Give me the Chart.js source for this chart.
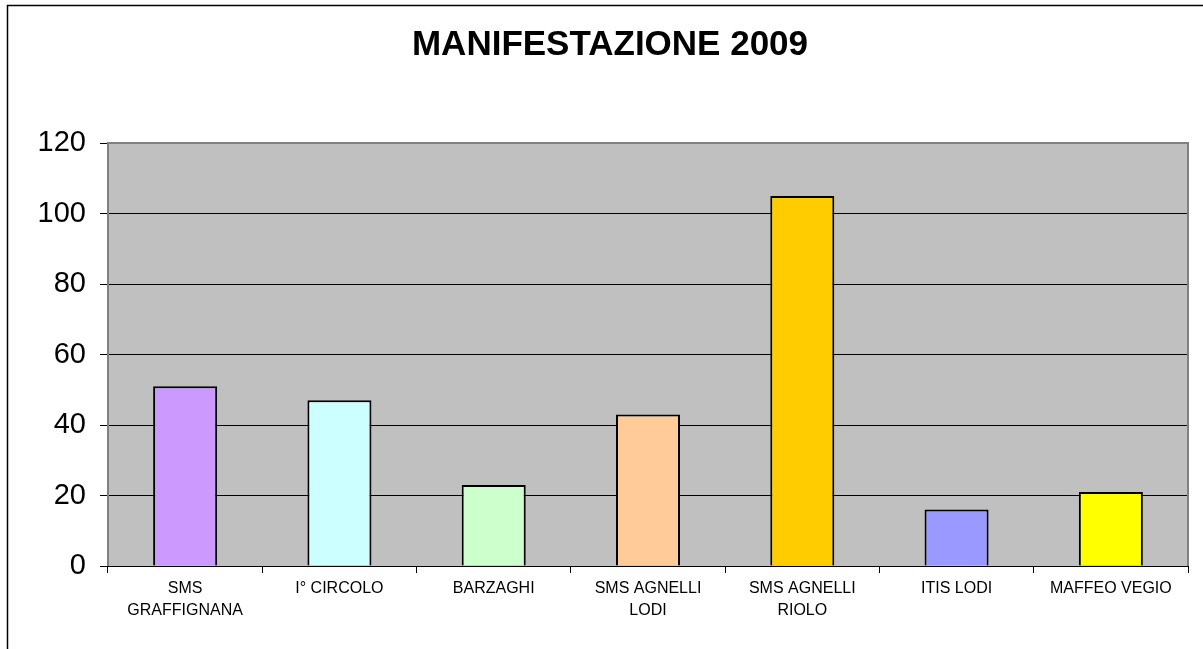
<!DOCTYPE html>
<html>
<head>
<meta charset="utf-8">
<script src="https://cdn.jsdelivr.net/npm/chart.js@4"></script>
<style>
  html, body { margin: 0; padding: 0; background: #fff; }
  #wrap { width: 1203px; height: 649px; }
</style>
</head>
<body>
<div id="wrap"><canvas id="chart"></canvas></div>
<script>
"use strict"

const categories = [["SMS", "GRAFFIGNANA"], "I° CIRCOLO", "BARZAGHI", ["SMS AGNELLI", "LODI"], ["SMS AGNELLI", "RIOLO"], "ITIS LODI", "MAFFEO VEGIO"];
const values = [51, 47, 23, 43, 105, 16, 21];
const barColors = ['#CC99FF', '#CCFFFF', '#CCFFCC', '#FFCC99', '#FFCC00', '#9999FF', '#FFFF00'];
const yTicks = [0, 20, 40, 60, 80, 100, 120];

// grey plot area + outer frame
const backdrop = {
    id: 'backdrop',
    beforeDraw(chart) {
        const ctx = chart.ctx;
        const a = chart.chartArea;
        ctx.save();
        ctx.fillStyle = '#C0C0C0';
        ctx.fillRect(a.left, a.top, a.right - a.left, a.bottom - a.top);
        ctx.strokeStyle = '#000';
        ctx.lineWidth = 1.5;
        ctx.strokeRect(7.5, 5.5, 1300, 800);
        ctx.restore();
    },
    afterDatasetsDraw(chart) {
        const ctx = chart.ctx;
        const a = chart.chartArea;
        ctx.save();
        ctx.strokeStyle = '#808080';
        ctx.lineWidth = 2;
        ctx.beginPath();
        ctx.moveTo(a.left, a.bottom);
        ctx.lineTo(a.left, a.top);
        ctx.lineTo(a.right, a.top);
        ctx.lineTo(a.right, a.bottom);
        ctx.stroke();
        ctx.strokeStyle = '#000';
        ctx.lineWidth = 1;
        ctx.beginPath();
        ctx.moveTo(a.left - 8, a.bottom + 0.5);
        ctx.lineTo(a.right, a.bottom + 0.5);
        ctx.stroke();
        ctx.restore();
    }
};

new Chart(document.getElementById('chart'), {
    type: 'bar',
    data: {
        labels: categories,
        datasets: [{
            data: values,
            backgroundColor: barColors,
            borderColor: '#000',
            borderWidth: 2,
            categoryPercentage: 1,
            barPercentage: 0.415
        }]
    },
    plugins: [backdrop],
    options: {
        responsive: true,
        maintainAspectRatio: false,
        animation: false,
        layout: { padding: { left: 32, right: 15, top: 0, bottom: 13 } },
        plugins: {
            legend: { display: false },
            tooltip: { enabled: false },
            title: {
                display: true,
                text: 'MANIFESTAZIONE 2009',
                color: '#000',
                font: { family: 'Liberation Sans, Arial', size: 35, weight: 'bold', lineHeight: 1.2 },
                padding: { top: 24, bottom: 77 }
            }
        },
        scales: {
            x: {
                afterFit(scale) { scale.height = 70; },
                grid: { offset: true, drawOnChartArea: false, drawTicks: true, tickLength: 7, tickColor: '#000', lineWidth: 1 },
                border: { display: false },
                ticks: {
                    color: '#000',
                    padding: 4,
                    maxRotation: 0,
                    autoSkip: false,
                    font: { family: 'Liberation Sans, Arial', size: 16, lineHeight: 1.4 }
                }
            },
            y: {
                min: 0,
                max: 120,
                afterFit(scale) { scale.width = 76; },
                afterBuildTicks(scale) { scale.ticks = yTicks.map(v => ({ value: v })); },
                grid: { color: '#000', lineWidth: 1, drawTicks: true, tickLength: 8, tickColor: '#000' },
                border: { display: false },
                ticks: {
                    color: '#000',
                    padding: 14,
                    font: { family: 'Liberation Sans, Arial', size: 29 }
                }
            }
        }
    }
});
</script>
</body>
</html>
